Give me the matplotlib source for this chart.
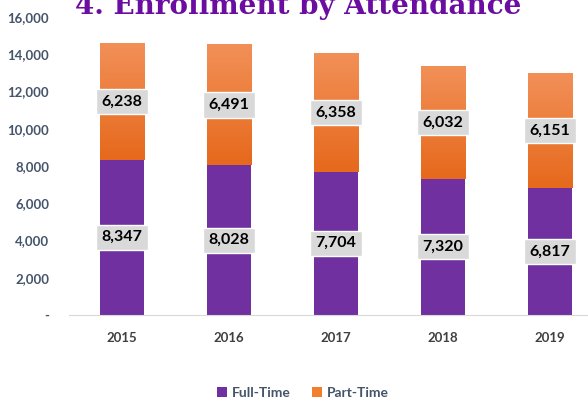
import matplotlib
matplotlib.use("Agg")
import matplotlib.pyplot as plt
import numpy as np
from matplotlib.colors import LinearSegmentedColormap
from matplotlib.patches import Patch

years = ["2015", "2016", "2017", "2018", "2019"]
full_time = [8347, 8028, 7704, 7320, 6817]
part_time = [6238, 6491, 6358, 6032, 6151]
y_ticks = [0, 2000, 4000, 6000, 8000, 10000, 12000, 14000, 16000]

purple = "#7030A0"
orange_cmap = LinearSegmentedColormap.from_list("org", ["#E6691C", "#F29058"])
tick_color = "#44546A"

plt.rcParams["font.family"] = ["Lato", "DejaVu Sans"]

fig = plt.figure(figsize=(5.88, 4.04), dpi=100)
ax = fig.add_axes([68.5 / 588, 89 / 404, 535 / 588, 298 / 404])

x = np.arange(len(years))
w = 0.42
ax.bar(x, full_time, width=w, color=purple, zorder=2)
ax.bar(x, part_time, width=w, bottom=full_time, color="none", zorder=2)

# orange segments get a vertical gradient, darker at the bottom
grad = np.linspace(0, 1, 256).reshape(-1, 1)
for xi, b, h in zip(x, full_time, part_time):
    ax.imshow(grad, cmap=orange_cmap, origin="lower", aspect="auto",
              extent=[xi - w / 2, xi + w / 2, b, b + h], zorder=2)

box = dict(boxstyle="square,pad=0.35", facecolor="#D9D9D9", edgecolor="white", linewidth=1)
for xi, f, p in zip(x, full_time, part_time):
    ax.text(xi, f / 2, f"{f:,}", ha="center", va="center", fontsize=11.5,
            fontweight="bold", color="black", bbox=box, zorder=3)
    ax.text(xi, f + p / 2, f"{p:,}", ha="center", va="center", fontsize=11.5,
            fontweight="bold", color="black", bbox=box, zorder=3)

ax.set_xlim(-0.5, 4.5)
ax.set_ylim(0, 16000)
ax.set_xticks(x)
ax.set_xticklabels(years, fontsize=9.5, fontweight="bold", color="#404040")
ax.set_yticks(y_ticks)
ax.set_yticklabels(["-"] + [f"{v:,}" for v in y_ticks[1:]], fontsize=9.5,
                   fontweight="bold", color=tick_color)
ax.tick_params(axis="x", length=0, pad=12)
ax.tick_params(axis="y", length=0, pad=14)
for s in ["top", "right", "left"]:
    ax.spines[s].set_visible(False)
ax.spines["bottom"].set_color("#D9D9D9")

fig.text(75 / 588, 1 - 14 / 404, "4. Enrollment by Attendance", fontsize=20,
         fontweight="bold", color="#6A0DA0", family="DejaVu Serif", va="baseline")

handles = [Patch(facecolor=purple, label="Full-Time"),
           Patch(facecolor="#F07F30", label="Part-Time")]
fig.legend(handles=handles, loc="center", bbox_to_anchor=(303 / 588, 1 - 393 / 404),
           ncol=2, frameon=False, handlelength=0.7, handleheight=0.7,
           handletextpad=0.4, columnspacing=1.5, labelcolor=tick_color,
           prop={"weight": "bold", "size": 10})

fig.savefig("out.png", dpi=100)
